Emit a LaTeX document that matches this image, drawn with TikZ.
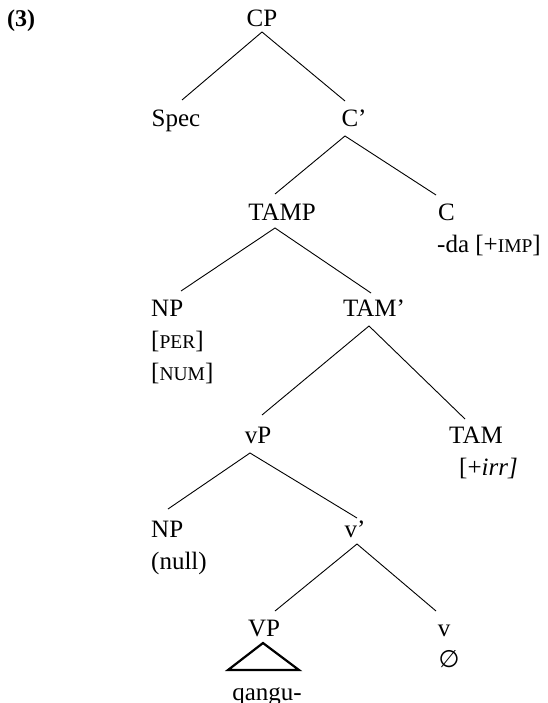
\documentclass[tikz,border=0pt]{standalone}
\usepackage{fontspec}
\setmainfont{Liberation Serif}
\newfontfamily\symfont{DejaVu Sans}
\newcommand{\fsc}[1]{{\fontsize{19.5}{20}\selectfont #1}}
\begin{document}
\begin{tikzpicture}[x=1pt,y=-1pt,
  lbl/.style={anchor=base, inner sep=0pt, font=\fontsize{25}{30}\selectfont},
  lblL/.style={lbl, anchor=base west},
  edge/.style={line width=0.9pt},
  tri/.style={line width=2.2pt, line join=miter}]
\useasboundingbox (0,0) rectangle (547,703);
% labels
\node[anchor=base west, inner sep=0pt, font=\fontsize{24}{28}\selectfont\bfseries] (ex) at (7,27) {(3)};
\node[lbl] (CP) at (262,27) {CP};
\node[lbl] (Spec) at (176,127) {Spec};
\node[lbl] (Cbar) at (354,127) {C’};
\node[lbl] (TAMP) at (282,220) {TAMP};
\node[lblL] (C) at (438,220) {C};
\node[lblL] (Cfeat) at (437,252) {-da [+\fsc{IMP}]};
\node[lblL] (NPa) at (151,316) {NP};
\node[lblL] (per) at (151,348) {[\fsc{PER}]};
\node[lblL] (num) at (151,380) {[\fsc{NUM}]};
\node[lbl] (TAMbar) at (374,316) {TAM’};
\node[lbl] (vP) at (258,443) {vP};
\node[lbl] (TAM) at (476,443) {TAM};
\node[lblL] (irr) at (459,475) {[+\textit{irr]}};
\node[lblL] (NPb) at (151,537) {NP};
\node[lblL] (null) at (151,569) {(null)};
\node[lbl] (vbar) at (355,537) {v’};
\node[lbl] (VP) at (264,636) {VP};
\node[lbl] (v) at (444,636) {v};
\node[inner sep=0pt, font=\symfont\fontsize{24}{24}\selectfont] (empty) at (449,659) {∅};
\node[lbl] (qangu) at (267,700) {qangu-};
% connector end points
\coordinate (CPb) at (262,32);
\coordinate (Spect) at (182,100);
\coordinate (Cbart) at (345,101);
\coordinate (Cbarb) at (345,136);
\coordinate (TAMPt) at (275,194);
\coordinate (Ct) at (436,195);
\coordinate (TAMPb) at (275,228);
\coordinate (NPat) at (181,291);
\coordinate (TAMbart) at (371,293);
\coordinate (TAMbarb) at (369,326);
\coordinate (vPt) at (262,415);
\coordinate (TAMt) at (465,419);
\coordinate (vPb) at (250,453);
\coordinate (NPbt) at (168,509);
\coordinate (vbart) at (357,518);
\coordinate (vbarb) at (357,544);
\coordinate (VPt) at (275,611);
\coordinate (vt) at (436,611);
\coordinate (triA) at (263,643);
\coordinate (triL) at (228,670);
\coordinate (triR) at (299,670);
% connectors
\draw[edge] (Spect) -- (CPb) -- (Cbart);
\draw[edge] (TAMPt) -- (Cbarb) -- (Ct);
\draw[edge] (NPat) -- (TAMPb) -- (TAMbart);
\draw[edge] (vPt) -- (TAMbarb) -- (TAMt);
\draw[edge] (NPbt) -- (vPb) -- (vbart);
\draw[edge] (VPt) -- (vbarb) -- (vt);
\draw[tri] (triA) -- (triL) -- (triR) -- cycle;
\end{tikzpicture}
\end{document}
